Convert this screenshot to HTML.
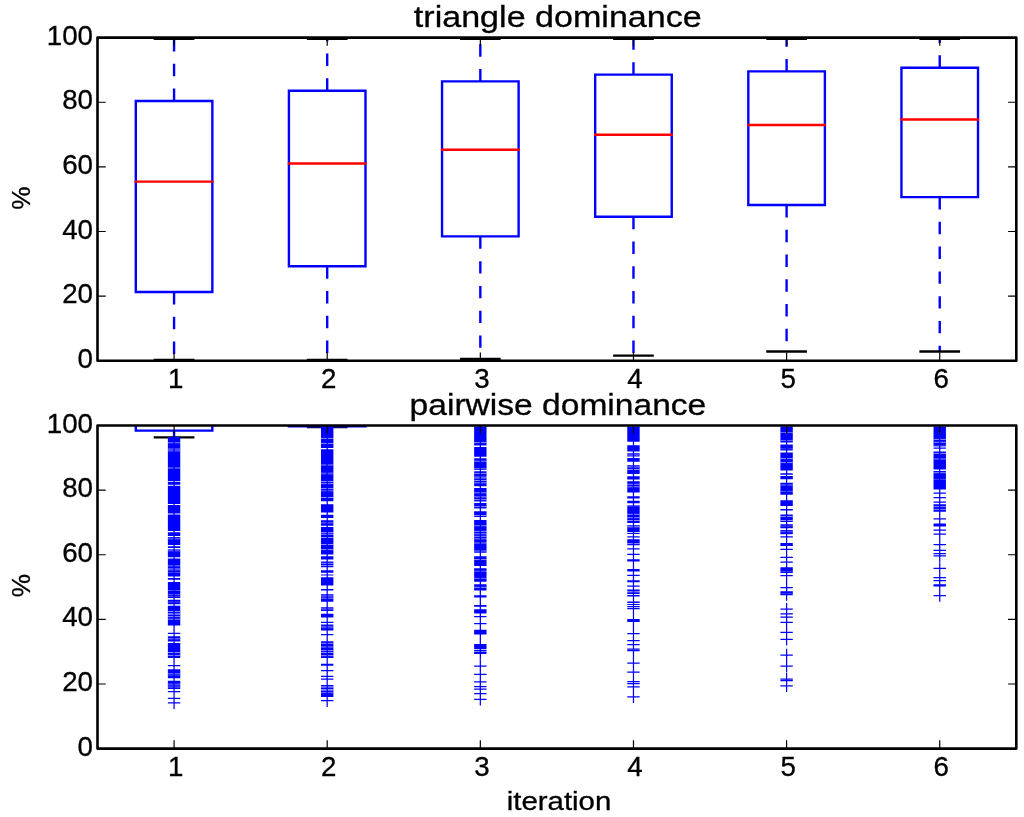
<!DOCTYPE html>
<html><head><meta charset="utf-8"><title>triangle / pairwise dominance</title>
<style>
html,body{margin:0;padding:0;background:#fff;}
svg{display:block;will-change:transform;}
text{font-family:'Liberation Sans',sans-serif;fill:#000;stroke:#000;stroke-width:0.3px;}
</style></head>
<body>
<svg width="1024" height="817" viewBox="0 0 1024 817">
<rect width="1024" height="817" fill="#fff"/>
<defs><clipPath id="ct"><rect x="97.5" y="37.6" width="918.8" height="323.2"/></clipPath><clipPath id="cb"><rect x="97.5" y="425.5" width="918.8" height="323.1"/></clipPath></defs>
<g clip-path="url(#ct)">
<path d="M174.07 292V359.9" stroke="#0000ff" stroke-width="2.4" stroke-dasharray="12.38" fill="none"/>
<path d="M174.07 101V38.9" stroke="#0000ff" stroke-width="2.4" stroke-dasharray="12.38" fill="none"/>
<path d="M154.93 359.9H193.21" stroke="#000" stroke-width="2.4" stroke-linecap="square"/>
<path d="M154.93 38.9H193.21" stroke="#000" stroke-width="2.4" stroke-linecap="square"/>
<path d="M135.78 292H212.35V101H135.78Z" stroke="#0000ff" stroke-width="2.4" fill="none" stroke-linejoin="miter"/>
<path d="M135.78 181.6H212.35" stroke="#ff0000" stroke-width="2.4" stroke-linecap="square"/>
<path d="M327.2 266.3V359.9" stroke="#0000ff" stroke-width="2.4" stroke-dasharray="12.38" fill="none"/>
<path d="M327.2 90.7V38.9" stroke="#0000ff" stroke-width="2.4" stroke-dasharray="12.38" fill="none"/>
<path d="M308.06 359.9H346.34" stroke="#000" stroke-width="2.4" stroke-linecap="square"/>
<path d="M308.06 38.9H346.34" stroke="#000" stroke-width="2.4" stroke-linecap="square"/>
<path d="M288.92 266.3H365.48V90.7H288.92Z" stroke="#0000ff" stroke-width="2.4" fill="none" stroke-linejoin="miter"/>
<path d="M288.92 163.5H365.48" stroke="#ff0000" stroke-width="2.4" stroke-linecap="square"/>
<path d="M480.33 236.4V358.9" stroke="#0000ff" stroke-width="2.4" stroke-dasharray="12.38" fill="none"/>
<path d="M480.33 81.4V38.9" stroke="#0000ff" stroke-width="2.4" stroke-dasharray="12.38" fill="none"/>
<path d="M461.19 358.9H499.47" stroke="#000" stroke-width="2.4" stroke-linecap="square"/>
<path d="M461.19 38.9H499.47" stroke="#000" stroke-width="2.4" stroke-linecap="square"/>
<path d="M442.05 236.4H518.62V81.4H442.05Z" stroke="#0000ff" stroke-width="2.4" fill="none" stroke-linejoin="miter"/>
<path d="M442.05 149.7H518.62" stroke="#ff0000" stroke-width="2.4" stroke-linecap="square"/>
<path d="M633.47 216.8V355.6" stroke="#0000ff" stroke-width="2.4" stroke-dasharray="12.38" fill="none"/>
<path d="M633.47 74.6V38.9" stroke="#0000ff" stroke-width="2.4" stroke-dasharray="12.38" fill="none"/>
<path d="M614.32 355.6H652.61" stroke="#000" stroke-width="2.4" stroke-linecap="square"/>
<path d="M614.32 38.9H652.61" stroke="#000" stroke-width="2.4" stroke-linecap="square"/>
<path d="M595.18 216.8H671.75V74.6H595.18Z" stroke="#0000ff" stroke-width="2.4" fill="none" stroke-linejoin="miter"/>
<path d="M595.18 134.7H671.75" stroke="#ff0000" stroke-width="2.4" stroke-linecap="square"/>
<path d="M786.6 205V351.5" stroke="#0000ff" stroke-width="2.4" stroke-dasharray="12.38" fill="none"/>
<path d="M786.6 71.4V38.9" stroke="#0000ff" stroke-width="2.4" stroke-dasharray="12.38" fill="none"/>
<path d="M767.46 351.5H805.74" stroke="#000" stroke-width="2.4" stroke-linecap="square"/>
<path d="M767.46 38.9H805.74" stroke="#000" stroke-width="2.4" stroke-linecap="square"/>
<path d="M748.32 205H824.88V71.4H748.32Z" stroke="#0000ff" stroke-width="2.4" fill="none" stroke-linejoin="miter"/>
<path d="M748.32 125H824.88" stroke="#ff0000" stroke-width="2.4" stroke-linecap="square"/>
<path d="M939.73 197.1V351.5" stroke="#0000ff" stroke-width="2.4" stroke-dasharray="12.38" fill="none"/>
<path d="M939.73 67.7V38.9" stroke="#0000ff" stroke-width="2.4" stroke-dasharray="12.38" fill="none"/>
<path d="M920.59 351.5H958.87" stroke="#000" stroke-width="2.4" stroke-linecap="square"/>
<path d="M920.59 38.9H958.87" stroke="#000" stroke-width="2.4" stroke-linecap="square"/>
<path d="M901.45 197.1H978.02V67.7H901.45Z" stroke="#0000ff" stroke-width="2.4" fill="none" stroke-linejoin="miter"/>
<path d="M901.45 119.5H978.02" stroke="#ff0000" stroke-width="2.4" stroke-linecap="square"/>
</g>
<g clip-path="url(#cb)">
<path d="M174.07 430.6V437.4" stroke="#0000ff" stroke-width="2.4" stroke-dasharray="12.38" fill="none"/>
<path d="M154.93 437.4H193.21" stroke="#000" stroke-width="2.4" stroke-linecap="square"/>
<path d="M135.78 425.5V430.6H212.35V425.5" stroke="#0000ff" stroke-width="2.4" fill="none" stroke-linejoin="miter"/>
<path d="M327.2 426.3V427.1" stroke="#0000ff" stroke-width="2.4" stroke-dasharray="12.38" fill="none"/>
<path d="M308.06 427.1H346.34" stroke="#000" stroke-width="2.4" stroke-linecap="square"/>
<path d="M288.92 425.5V426.3H365.48V425.5" stroke="#0000ff" stroke-width="2.4" fill="none" stroke-linejoin="miter"/>
<path d="M167.87 437h12.4v43.9h-12.4zM167.87 481.8h12.4v2.9h-12.4zM167.87 485.7h12.4v18.3h-12.4zM167.87 505.1h12.4v8.4h-12.4zM167.87 514.5h12.4v16.6h-12.4zM167.87 532.2h12.4v3.8h-12.4zM167.87 537h12.4v8h-12.4zM167.87 546.2h12.4v1.8h-12.4zM167.87 549.2h12.4v8.1h-12.4zM167.87 558.4h12.4v18.2h-12.4zM167.87 578.1h12.4v1.7h-12.4zM167.87 581.9h12.4v16h-12.4zM167.87 599.8h12.4v4.4h-12.4zM167.87 605.8h12.4v19.8h-12.4zM167.87 632.77h12.4v1.25h-12.4zM167.87 636.3h12.4v5.2h-12.4zM167.87 643h12.4v14.9h-12.4zM167.87 664.98h12.4v1.25h-12.4zM167.87 669.3h12.4v9h-12.4zM167.87 680.7h12.4v8.3h-12.4zM167.87 691.08h12.4v1.25h-12.4zM167.87 697.77h12.4v1.25h-12.4zM167.87 702.17h12.4v1.25h-12.4z" fill="#0000ff"/>
<rect x="167.87" y="442.3" width="12.4" height="1" fill="#fff" fill-opacity="0.55"/>
<rect x="167.87" y="448.2" width="12.4" height="3.4" fill="#fff" fill-opacity="0.3"/>
<rect x="167.87" y="467.5" width="12.4" height="1" fill="#fff" fill-opacity="0.55"/>
<rect x="167.87" y="537.5" width="12.4" height="2" fill="#fff" fill-opacity="0.3"/>
<rect x="167.87" y="549.5" width="12.4" height="2" fill="#fff" fill-opacity="0.3"/>
<rect x="167.87" y="565.05" width="12.4" height="1.5" fill="#fff" fill-opacity="0.35"/>
<rect x="167.87" y="568.05" width="12.4" height="2.5" fill="#fff" fill-opacity="0.35"/>
<rect x="167.87" y="572" width="12.4" height="0.8" fill="#fff" fill-opacity="0.35"/>
<rect x="167.87" y="590" width="12.4" height="0.8" fill="#fff" fill-opacity="0.4"/>
<rect x="167.87" y="594.1" width="12.4" height="0.8" fill="#fff" fill-opacity="0.4"/>
<rect x="167.87" y="595.8" width="12.4" height="0.8" fill="#fff" fill-opacity="0.4"/>
<rect x="167.87" y="601.6" width="12.4" height="0.8" fill="#fff" fill-opacity="0.4"/>
<rect x="167.87" y="611" width="12.4" height="1" fill="#fff" fill-opacity="0.55"/>
<rect x="167.87" y="613.2" width="12.4" height="1.6" fill="#fff" fill-opacity="0.55"/>
<rect x="167.87" y="616.1" width="12.4" height="1" fill="#fff" fill-opacity="0.55"/>
<rect x="167.87" y="618.7" width="12.4" height="1" fill="#fff" fill-opacity="0.55"/>
<rect x="167.87" y="638.3" width="12.4" height="1" fill="#fff" fill-opacity="0.55"/>
<rect x="167.87" y="652" width="12.4" height="1" fill="#fff" fill-opacity="0.55"/>
<rect x="167.87" y="654.9" width="12.4" height="1" fill="#fff" fill-opacity="0.55"/>
<rect x="167.87" y="673.3" width="12.4" height="1" fill="#fff" fill-opacity="0.55"/>
<rect x="167.87" y="675.3" width="12.4" height="0.6" fill="#fff" fill-opacity="0.3"/>
<rect x="167.87" y="683.5" width="12.4" height="2" fill="#fff" fill-opacity="0.3"/>
<rect x="167.87" y="686.25" width="12.4" height="1.5" fill="#fff" fill-opacity="0.3"/>
<path d="M173.44 431.43h1.25v277.57h-1.25z" fill="#0000ff"/>
<path d="M321 427h12.4v21h-12.4zM321 449.3h12.4v52h-12.4zM321 504.2h12.4v8.2h-12.4zM321 514.8h12.4v3.2h-12.4zM321 520.2h12.4v5.6h-12.4zM321 527h12.4v27.6h-12.4zM321 556.3h12.4v3.3h-12.4zM321 561.6h12.4v5.7h-12.4zM321 570.2h12.4v2.6h-12.4zM321 574.4h12.4v1.2h-12.4zM321 577.2h12.4v8.4h-12.4zM321 589.1h12.4v1.5h-12.4zM321 594.2h12.4v7.6h-12.4zM321 607.2h12.4v3.8h-12.4zM321 613.8h12.4v3.8h-12.4zM321 621.77h12.4v1.25h-12.4zM321 624.4h12.4v6.2h-12.4zM321 633.98h12.4v1.25h-12.4zM321 641.2h12.4v16.8h-12.4zM321 663.8h12.4v2h-12.4zM321 669.98h12.4v1.25h-12.4zM321 675.67h12.4v1.25h-12.4zM321 678.48h12.4v1.25h-12.4zM321 685h12.4v12h-12.4zM321 700.08h12.4v1.25h-12.4z" fill="#0000ff"/>
<rect x="321" y="437.9" width="12.4" height="1" fill="#fff" fill-opacity="0.55"/>
<rect x="321" y="442.9" width="12.4" height="1" fill="#fff" fill-opacity="0.55"/>
<rect x="321" y="464.5" width="12.4" height="1" fill="#fff" fill-opacity="0.55"/>
<rect x="321" y="472.5" width="12.4" height="2" fill="#fff" fill-opacity="0.3"/>
<rect x="321" y="481" width="12.4" height="1" fill="#fff" fill-opacity="0.55"/>
<rect x="321" y="483.1" width="12.4" height="1" fill="#fff" fill-opacity="0.55"/>
<rect x="321" y="488.1" width="12.4" height="1" fill="#fff" fill-opacity="0.55"/>
<rect x="321" y="490.2" width="12.4" height="1.2" fill="#fff" fill-opacity="0.35"/>
<rect x="321" y="497" width="12.4" height="1" fill="#fff" fill-opacity="0.55"/>
<rect x="321" y="522.05" width="12.4" height="1.5" fill="#fff" fill-opacity="0.3"/>
<rect x="321" y="532.1" width="12.4" height="1" fill="#fff" fill-opacity="0.55"/>
<rect x="321" y="533.8" width="12.4" height="1" fill="#fff" fill-opacity="0.55"/>
<rect x="321" y="537" width="12.4" height="1" fill="#fff" fill-opacity="0.55"/>
<rect x="321" y="544" width="12.4" height="1" fill="#fff" fill-opacity="0.55"/>
<rect x="321" y="549.1" width="12.4" height="1" fill="#fff" fill-opacity="0.55"/>
<rect x="321" y="562.8" width="12.4" height="1" fill="#fff" fill-opacity="0.55"/>
<rect x="321" y="565" width="12.4" height="1" fill="#fff" fill-opacity="0.55"/>
<rect x="321" y="595.5" width="12.4" height="1" fill="#fff" fill-opacity="0.55"/>
<rect x="321" y="597.7" width="12.4" height="1" fill="#fff" fill-opacity="0.55"/>
<rect x="321" y="608.5" width="12.4" height="1" fill="#fff" fill-opacity="0.55"/>
<rect x="321" y="625.75" width="12.4" height="2.5" fill="#fff" fill-opacity="0.3"/>
<rect x="321" y="642.8" width="12.4" height="1" fill="#fff" fill-opacity="0.55"/>
<rect x="321" y="646.5" width="12.4" height="1" fill="#fff" fill-opacity="0.55"/>
<rect x="321" y="650.1" width="12.4" height="1" fill="#fff" fill-opacity="0.55"/>
<rect x="321" y="652" width="12.4" height="1" fill="#fff" fill-opacity="0.55"/>
<rect x="321" y="655" width="12.4" height="1.2" fill="#fff" fill-opacity="0.5"/>
<rect x="321" y="686.3" width="12.4" height="1.3" fill="#fff" fill-opacity="0.6"/>
<rect x="321" y="689.1" width="12.4" height="1.6" fill="#fff" fill-opacity="0.6"/>
<rect x="321" y="692.25" width="12.4" height="0.9" fill="#fff" fill-opacity="0.5"/>
<path d="M326.57 421.43h1.25v285.48h-1.25z" fill="#0000ff"/>
<path d="M474.13 426.4h12.4v19.1h-12.4zM474.13 447h12.4v9.8h-12.4zM474.13 458.3h12.4v11.7h-12.4zM474.13 471.2h12.4v5.6h-12.4zM474.13 477h12.4v9.3h-12.4zM474.13 488h12.4v13.4h-12.4zM474.13 503h12.4v5.6h-12.4zM474.13 511.2h12.4v5.8h-12.4zM474.13 520h12.4v32.8h-12.4zM474.13 556.3h12.4v9.7h-12.4zM474.13 568.3h12.4v13.4h-12.4zM474.13 584.2h12.4v6.4h-12.4zM474.13 595.2h12.4v2.4h-12.4zM474.13 605h12.4v1.8h-12.4zM474.13 609.2h12.4v4.4h-12.4zM474.13 615.98h12.4v1.25h-12.4zM474.13 622.98h12.4v1.25h-12.4zM474.13 629.7h12.4v4.9h-12.4zM474.13 644h12.4v5h-12.4zM474.13 649.67h12.4v1.25h-12.4zM474.13 651.38h12.4v1.25h-12.4zM474.13 652.67h12.4v1.25h-12.4zM474.13 665.38h12.4v1.25h-12.4zM474.13 673.77h12.4v1.25h-12.4zM474.13 681.27h12.4v1.25h-12.4zM474.13 685.88h12.4v1.25h-12.4zM474.13 688.38h12.4v1.25h-12.4zM474.13 692.88h12.4v1.25h-12.4zM474.13 698.67h12.4v1.25h-12.4z" fill="#0000ff"/>
<rect x="474.13" y="442.1" width="12.4" height="1" fill="#fff" fill-opacity="0.55"/>
<rect x="474.13" y="460.7" width="12.4" height="1" fill="#fff" fill-opacity="0.55"/>
<rect x="474.13" y="468.3" width="12.4" height="1" fill="#fff" fill-opacity="0.55"/>
<rect x="474.13" y="472.9" width="12.4" height="1" fill="#fff" fill-opacity="0.55"/>
<rect x="474.13" y="477.3" width="12.4" height="1.2" fill="#fff" fill-opacity="0.55"/>
<rect x="474.13" y="480" width="12.4" height="1" fill="#fff" fill-opacity="0.55"/>
<rect x="474.13" y="482.3" width="12.4" height="1" fill="#fff" fill-opacity="0.55"/>
<rect x="474.13" y="492.3" width="12.4" height="1" fill="#fff" fill-opacity="0.55"/>
<rect x="474.13" y="496.4" width="12.4" height="1" fill="#fff" fill-opacity="0.6"/>
<rect x="474.13" y="499.1" width="12.4" height="1" fill="#fff" fill-opacity="0.55"/>
<rect x="474.13" y="506.1" width="12.4" height="1" fill="#fff" fill-opacity="0.55"/>
<rect x="474.13" y="515" width="12.4" height="1" fill="#fff" fill-opacity="0.55"/>
<rect x="474.13" y="525.3" width="12.4" height="1" fill="#fff" fill-opacity="0.55"/>
<rect x="474.13" y="530.8" width="12.4" height="1" fill="#fff" fill-opacity="0.55"/>
<rect x="474.13" y="533.2" width="12.4" height="1.2" fill="#fff" fill-opacity="0.45"/>
<rect x="474.13" y="535.8" width="12.4" height="1" fill="#fff" fill-opacity="0.55"/>
<rect x="474.13" y="538.2" width="12.4" height="1.2" fill="#fff" fill-opacity="0.45"/>
<rect x="474.13" y="542.5" width="12.4" height="1" fill="#fff" fill-opacity="0.55"/>
<rect x="474.13" y="550.5" width="12.4" height="1" fill="#fff" fill-opacity="0.55"/>
<rect x="474.13" y="559.15" width="12.4" height="0.9" fill="#fff" fill-opacity="0.6"/>
<rect x="474.13" y="570.75" width="12.4" height="0.9" fill="#fff" fill-opacity="0.5"/>
<rect x="474.13" y="577.85" width="12.4" height="0.9" fill="#fff" fill-opacity="0.5"/>
<rect x="474.13" y="586.8" width="12.4" height="1" fill="#fff" fill-opacity="0.6"/>
<path d="M479.71 420.82h1.25v238.68h-1.25zM479.71 659.8h1.25v45.7h-1.25z" fill="#0000ff"/>
<path d="M627.27 426.4h12.4v15.4h-12.4zM627.27 445.3h12.4v6.3h-12.4zM627.27 453.3h12.4v3.2h-12.4zM627.27 458h12.4v3.8h-12.4zM627.27 465.3h12.4v8.7h-12.4zM627.27 476.3h12.4v3.3h-12.4zM627.27 481.2h12.4v11.3h-12.4zM627.27 496.2h12.4v2.4h-12.4zM627.27 500.8h12.4v2.5h-12.4zM627.27 505.3h12.4v8.2h-12.4zM627.27 513.5h12.4v9.5h-12.4zM627.27 525h12.4v7h-12.4zM627.27 532.8h12.4v1.2h-12.4zM627.27 536.17h12.4v1.25h-12.4zM627.27 539.3h12.4v6h-12.4zM627.27 548.17h12.4v1.25h-12.4zM627.27 553.67h12.4v1.25h-12.4zM627.27 559.2h12.4v2.4h-12.4zM627.27 569h12.4v2.4h-12.4zM627.27 574.77h12.4v1.25h-12.4zM627.27 580.3h12.4v1.9h-12.4zM627.27 585.38h12.4v1.25h-12.4zM627.27 589.6h12.4v1.9h-12.4zM627.27 592.3h12.4v1.7h-12.4zM627.27 595h12.4v1.4h-12.4zM627.27 601.5h12.4v1.5h-12.4zM627.27 604h12.4v1h-12.4zM627.27 606h12.4v1.3h-12.4zM627.27 608h12.4v1.2h-12.4zM627.27 619h12.4v2.9h-12.4zM627.27 632.88h12.4v1.25h-12.4zM627.27 639.88h12.4v1.25h-12.4zM627.27 644.08h12.4v1.25h-12.4zM627.27 648.38h12.4v1.25h-12.4zM627.27 649.88h12.4v1.25h-12.4zM627.27 662.38h12.4v1.25h-12.4zM627.27 671.58h12.4v1.25h-12.4zM627.27 680.98h12.4v1.25h-12.4zM627.27 682.88h12.4v1.25h-12.4zM627.27 686.27h12.4v1.25h-12.4zM627.27 696.17h12.4v1.25h-12.4z" fill="#0000ff"/>
<rect x="627.27" y="454.5" width="12.4" height="1" fill="#fff" fill-opacity="0.55"/>
<rect x="627.27" y="466.5" width="12.4" height="1" fill="#fff" fill-opacity="0.55"/>
<rect x="627.27" y="469" width="12.4" height="1" fill="#fff" fill-opacity="0.55"/>
<rect x="627.27" y="483.8" width="12.4" height="1" fill="#fff" fill-opacity="0.55"/>
<rect x="627.27" y="486.3" width="12.4" height="1" fill="#fff" fill-opacity="0.55"/>
<rect x="627.27" y="505.5" width="12.4" height="1" fill="#fff" fill-opacity="0.3"/>
<rect x="627.27" y="513.8" width="12.4" height="1" fill="#fff" fill-opacity="0.55"/>
<rect x="627.27" y="517.2" width="12.4" height="1" fill="#fff" fill-opacity="0.55"/>
<rect x="627.27" y="520" width="12.4" height="1" fill="#fff" fill-opacity="0.55"/>
<rect x="627.27" y="525.5" width="12.4" height="2" fill="#fff" fill-opacity="0.45"/>
<rect x="627.27" y="532.5" width="12.4" height="0.6" fill="#fff" fill-opacity="0.4"/>
<rect x="627.27" y="543.1" width="12.4" height="1" fill="#fff" fill-opacity="0.55"/>
<path d="M632.84 420.82h1.25v235.88h-1.25zM632.84 656.8h1.25v46.2h-1.25z" fill="#0000ff"/>
<path d="M780.4 426.4h12.4v16h-12.4zM780.4 444.5h12.4v6.1h-12.4zM780.4 452.6h12.4v18h-12.4zM780.4 473.2h12.4v1.6h-12.4zM780.4 476h12.4v3.3h-12.4zM780.4 482.8h12.4v12h-12.4zM780.4 500.2h12.4v5.8h-12.4zM780.4 509h12.4v1.6h-12.4zM780.4 514.6h12.4v7.3h-12.4zM780.4 524.2h12.4v4.1h-12.4zM780.4 530h12.4v4.2h-12.4zM780.4 536.27h12.4v1.25h-12.4zM780.4 543h12.4v3h-12.4zM780.4 548.77h12.4v1.25h-12.4zM780.4 556.77h12.4v1.25h-12.4zM780.4 561.58h12.4v1.25h-12.4zM780.4 567.3h12.4v5.6h-12.4zM780.4 574.88h12.4v1.25h-12.4zM780.4 586.88h12.4v1.25h-12.4zM780.4 591.3h12.4v3.9h-12.4zM780.4 608.58h12.4v1.25h-12.4zM780.4 613.27h12.4v1.25h-12.4zM780.4 616.48h12.4v1.25h-12.4zM780.4 621.77h12.4v1.25h-12.4zM780.4 631.67h12.4v1.25h-12.4zM780.4 638.77h12.4v1.25h-12.4zM780.4 654.38h12.4v1.25h-12.4zM780.4 665.48h12.4v1.25h-12.4zM780.4 678.38h12.4v1.25h-12.4zM780.4 679.88h12.4v1.25h-12.4zM780.4 685.17h12.4v1.25h-12.4z" fill="#0000ff"/>
<rect x="780.4" y="432.15" width="12.4" height="0.9" fill="#fff" fill-opacity="0.45"/>
<rect x="780.4" y="440.15" width="12.4" height="0.9" fill="#fff" fill-opacity="0.45"/>
<rect x="780.4" y="448.55" width="12.4" height="0.7" fill="#fff" fill-opacity="0.4"/>
<rect x="780.4" y="458.1" width="12.4" height="1" fill="#fff" fill-opacity="0.55"/>
<rect x="780.4" y="462.1" width="12.4" height="1" fill="#fff" fill-opacity="0.55"/>
<rect x="780.4" y="484.5" width="12.4" height="1" fill="#fff" fill-opacity="0.5"/>
<rect x="780.4" y="490.9" width="12.4" height="0.8" fill="#fff" fill-opacity="0.45"/>
<rect x="780.4" y="516" width="12.4" height="1" fill="#fff" fill-opacity="0.55"/>
<rect x="780.4" y="520" width="12.4" height="1" fill="#fff" fill-opacity="0.55"/>
<rect x="780.4" y="525.6" width="12.4" height="0.8" fill="#fff" fill-opacity="0.4"/>
<rect x="780.4" y="530.75" width="12.4" height="1.5" fill="#fff" fill-opacity="0.3"/>
<rect x="780.4" y="571.2" width="12.4" height="0.6" fill="#fff" fill-opacity="0.4"/>
<rect x="780.4" y="593.15" width="12.4" height="0.7" fill="#fff" fill-opacity="0.3"/>
<path d="M785.97 420.82h1.25v179.95h-1.25zM785.97 603h1.25v42.6h-1.25zM785.97 648.8h1.25v23.5h-1.25zM785.97 672.8h1.25v19.2h-1.25z" fill="#0000ff"/>
<path d="M933.53 426.4h12.4v20.1h-12.4zM933.53 447.57h12.4v1.25h-12.4zM933.53 451.5h12.4v18h-12.4zM933.53 471h12.4v18.5h-12.4zM933.53 492.38h12.4v1.25h-12.4zM933.53 497.07h12.4v1.25h-12.4zM933.53 501.38h12.4v1.25h-12.4zM933.53 504.3h12.4v7.5h-12.4zM933.53 518.27h12.4v1.25h-12.4zM933.53 523.5h12.4v3h-12.4zM933.53 529.38h12.4v1.25h-12.4zM933.53 533.38h12.4v1.25h-12.4zM933.53 543.98h12.4v1.25h-12.4zM933.53 549.67h12.4v1.25h-12.4zM933.53 552.98h12.4v1.25h-12.4zM933.53 555.17h12.4v1.25h-12.4zM933.53 567.77h12.4v1.25h-12.4zM933.53 576.88h12.4v1.25h-12.4zM933.53 579.98h12.4v1.25h-12.4zM933.53 584.2h12.4v2.2h-12.4zM933.53 594.98h12.4v1.25h-12.4z" fill="#0000ff"/>
<rect x="933.53" y="438.9" width="12.4" height="1" fill="#fff" fill-opacity="0.55"/>
<rect x="933.53" y="441.8" width="12.4" height="1" fill="#fff" fill-opacity="0.55"/>
<rect x="933.53" y="445.6" width="12.4" height="0.8" fill="#fff" fill-opacity="0.45"/>
<rect x="933.53" y="452.9" width="12.4" height="1" fill="#fff" fill-opacity="0.55"/>
<rect x="933.53" y="458.5" width="12.4" height="1" fill="#fff" fill-opacity="0.55"/>
<rect x="933.53" y="472.2" width="12.4" height="1" fill="#fff" fill-opacity="0.55"/>
<rect x="933.53" y="478.9" width="12.4" height="0.8" fill="#fff" fill-opacity="0.35"/>
<rect x="933.53" y="506.1" width="12.4" height="1" fill="#fff" fill-opacity="0.55"/>
<rect x="933.53" y="508.9" width="12.4" height="1" fill="#fff" fill-opacity="0.55"/>
<path d="M939.11 420.82h1.25v141.18h-1.25zM939.11 562.2h1.25v39.6h-1.25z" fill="#0000ff"/>
</g>
<path d="M174.07 360.8v-8.25M174.07 37.6v8.25M327.2 360.8v-8.25M327.2 37.6v8.25M480.33 360.8v-8.25M480.33 37.6v8.25M633.47 360.8v-8.25M633.47 37.6v8.25M786.6 360.8v-8.25M786.6 37.6v8.25M939.73 360.8v-8.25M939.73 37.6v8.25M97.5 360.8h8.25M1016.3 360.8h-8.25M97.5 296.16h8.25M1016.3 296.16h-8.25M97.5 231.52h8.25M1016.3 231.52h-8.25M97.5 166.88h8.25M1016.3 166.88h-8.25M97.5 102.24h8.25M1016.3 102.24h-8.25M97.5 37.6h8.25M1016.3 37.6h-8.25" stroke="#000" stroke-width="1.2"/>
<rect x="97.5" y="37.6" width="918.8" height="323.2" fill="none" stroke="#000" stroke-width="2.6" stroke-linejoin="round"/>
<path d="M174.07 748.6v-8.25M174.07 425.5v8.25M327.2 748.6v-8.25M327.2 425.5v8.25M480.33 748.6v-8.25M480.33 425.5v8.25M633.47 748.6v-8.25M633.47 425.5v8.25M786.6 748.6v-8.25M786.6 425.5v8.25M939.73 748.6v-8.25M939.73 425.5v8.25M97.5 748.6h8.25M1016.3 748.6h-8.25M97.5 683.98h8.25M1016.3 683.98h-8.25M97.5 619.36h8.25M1016.3 619.36h-8.25M97.5 554.74h8.25M1016.3 554.74h-8.25M97.5 490.12h8.25M1016.3 490.12h-8.25M97.5 425.5h8.25M1016.3 425.5h-8.25" stroke="#000" stroke-width="1.2"/>
<rect x="97.5" y="425.5" width="918.8" height="323.1" fill="none" stroke="#000" stroke-width="2.6" stroke-linejoin="round"/>
<text transform="translate(93 367.82) scale(1.0350 1)" font-size="26.8" text-anchor="end">0</text>
<text transform="translate(93 303.18) scale(1.0350 1)" font-size="26.8" text-anchor="end">20</text>
<text transform="translate(93 238.54) scale(1.0350 1)" font-size="26.8" text-anchor="end">40</text>
<text transform="translate(93 173.9) scale(1.0350 1)" font-size="26.8" text-anchor="end">60</text>
<text transform="translate(93 109.26) scale(1.0350 1)" font-size="26.8" text-anchor="end">80</text>
<text transform="translate(93 44.62) scale(1.0350 1)" font-size="26.8" text-anchor="end">100</text>
<text transform="translate(175.67 388.21) scale(1.0350 1)" font-size="26.8" text-anchor="middle">1</text>
<text transform="translate(328.8 388.21) scale(1.0350 1)" font-size="26.8" text-anchor="middle">2</text>
<text transform="translate(481.93 388.21) scale(1.0350 1)" font-size="26.8" text-anchor="middle">3</text>
<text transform="translate(635.07 388.21) scale(1.0350 1)" font-size="26.8" text-anchor="middle">4</text>
<text transform="translate(788.2 388.21) scale(1.0350 1)" font-size="26.8" text-anchor="middle">5</text>
<text transform="translate(941.33 388.21) scale(1.0350 1)" font-size="26.8" text-anchor="middle">6</text>
<text transform="translate(93 755.62) scale(1.0350 1)" font-size="26.8" text-anchor="end">0</text>
<text transform="translate(93 691) scale(1.0350 1)" font-size="26.8" text-anchor="end">20</text>
<text transform="translate(93 626.38) scale(1.0350 1)" font-size="26.8" text-anchor="end">40</text>
<text transform="translate(93 561.76) scale(1.0350 1)" font-size="26.8" text-anchor="end">60</text>
<text transform="translate(93 497.14) scale(1.0350 1)" font-size="26.8" text-anchor="end">80</text>
<text transform="translate(93 432.52) scale(1.0350 1)" font-size="26.8" text-anchor="end">100</text>
<text transform="translate(175.67 776.01) scale(1.0350 1)" font-size="26.8" text-anchor="middle">1</text>
<text transform="translate(328.8 776.01) scale(1.0350 1)" font-size="26.8" text-anchor="middle">2</text>
<text transform="translate(481.93 776.01) scale(1.0350 1)" font-size="26.8" text-anchor="middle">3</text>
<text transform="translate(635.07 776.01) scale(1.0350 1)" font-size="26.8" text-anchor="middle">4</text>
<text transform="translate(788.2 776.01) scale(1.0350 1)" font-size="26.8" text-anchor="middle">5</text>
<text transform="translate(941.33 776.01) scale(1.0350 1)" font-size="26.8" text-anchor="middle">6</text>
<text transform="translate(413.83 27.45) scale(1.1287 1)" font-size="30.2" text-anchor="start">triangle dominance</text>
<text transform="translate(409.59 415.2) scale(1.1122 1)" font-size="30.2" text-anchor="start">pairwise dominance</text>
<text transform="translate(506.68 810.3) scale(1.1405 1)" font-size="25.8" text-anchor="start">iteration</text>
<text transform="translate(30.43 198.2) rotate(-90)" font-size="26.26" text-anchor="middle">%</text>
<text transform="translate(30.43 585.6) rotate(-90)" font-size="26.26" text-anchor="middle">%</text>
</svg>
</body></html>
